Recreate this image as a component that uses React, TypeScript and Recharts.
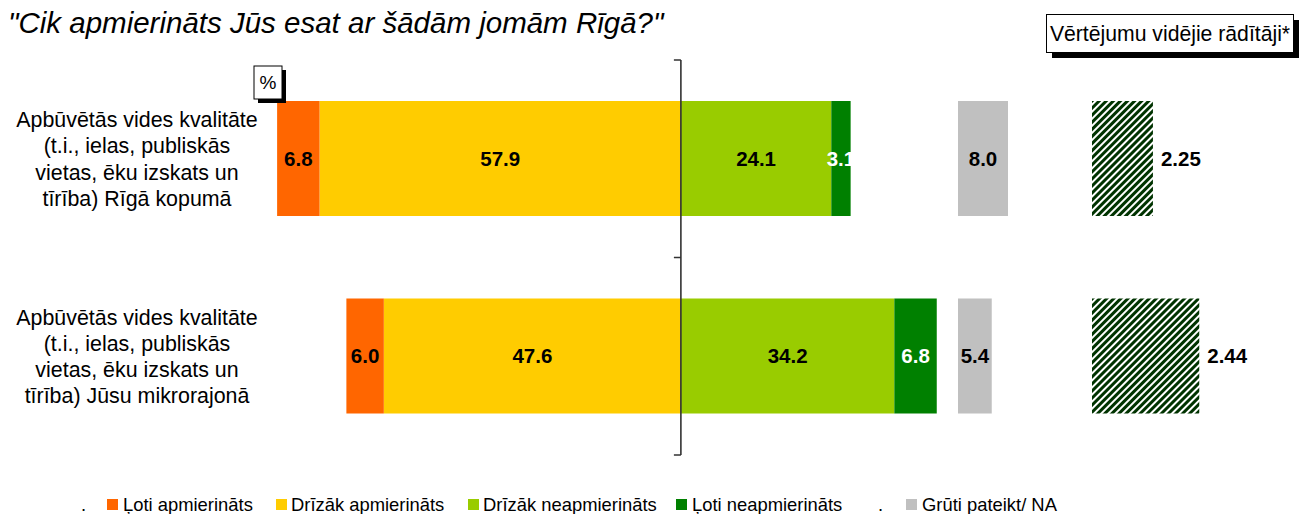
import { BarChart, Bar, XAxis, YAxis, LabelList, ReferenceLine } from 'recharts';

const FONT = '"Liberation Sans", Arial, sans-serif';

const categories = [
    'Apbūvētās vides kvalitāte (t.i., ielas, publiskās vietas, ēku izskats un tīrība) Rīgā kopumā',
    'Apbūvētās vides kvalitāte (t.i., ielas, publiskās vietas, ēku izskats un tīrība) Jūsu mikrorajonā',
];
const categoryLines = [
    ['Apbūvētās vides kvalitāte', '(t.i., ielas, publiskās', 'vietas, ēku izskats un', 'tīrība) Rīgā kopumā'],
    ['Apbūvētās vides kvalitāte', '(t.i., ielas, publiskās', 'vietas, ēku izskats un', 'tīrība) Jūsu mikrorajonā'],
];

const lotiApmierinats = [6.8, 6.0];
const drizakApmierinats = [57.9, 47.6];
const drizakNeapmierinats = [24.1, 34.2];
const lotiNeapmierinats = [3.1, 6.8];
const grutiPateikt = [8.0, 5.4];
const videjieRaditaji = [2.25, 2.44];

const seriesNames = ['Ļoti apmierināts', 'Drīzāk apmierināts', 'Drīzāk neapmierināts', 'Ļoti neapmierināts', 'Grūti pateikt/ NA'];
const COLORS = ['#FF6600', '#FFCC00', '#99CC00', '#008000', '#C0C0C0'];

// left side goes negative so the stack diverges around 0
const data = categories.map((name, i) => ({
    name,
    loti: -lotiApmierinats[i],
    drizak: -drizakApmierinats[i],
    drizakNe: drizakNeapmierinats[i],
    lotiNe: lotiNeapmierinats[i],
    gruti: grutiPateikt[i],
    videjais: videjieRaditaji[i],
}));

const fmt = (v: any) => Math.abs(Number(v)).toFixed(1);

const labelStyle = { fontSize: 20.5, fontWeight: 'bold', fontFamily: FONT };

function CategoryTick(props: any) {
    const { y, payload } = props;
    const idx = categories.indexOf(payload.value);
    const lines = idx >= 0 ? categoryLines[idx] : [payload.value];
    const lh = 26.3;
    const start = y - ((lines.length - 1) * lh) / 2;
    return (
        <text textAnchor="middle" fontSize={21.4} fontFamily={FONT} fill="#000">
            {lines.map((l, i) => (
                <tspan key={i} x={137} y={start + i * lh} dy="0.36em">{l}</tspan>
            ))}
        </text>
    );
}

function AxisShape(props: any) {
    const { x1, y1, y2 } = props;
    const top = Math.min(y1, y2);
    const bottom = Math.max(y1, y2);
    const mid = (top + bottom) / 2;
    return (
        <path
            d={`M${x1},${top} V${bottom} M${x1 - 7},${top} H${x1} M${x1 - 7},${mid} H${x1} M${x1 - 7},${bottom} H${x1}`}
            stroke="#333"
            strokeWidth={1.6}
            fill="none"
        />
    );
}

const MARGIN_TOP = 60;
const MARGIN_BOTTOM = 59;

function MainChart() {
    return (
        <BarChart
            layout="vertical"
            width={960}
            height={514}
            data={data}
            stackOffset="sign"
            barSize={115}
            margin={{ top: MARGIN_TOP, right: 17, bottom: MARGIN_BOTTOM, left: 0 }}
        >
            <XAxis type="number" domain={[-66, 42]} hide />
            <YAxis type="category" dataKey="name" width={269} axisLine={false} tickLine={false} interval={0} tick={<CategoryTick />} />
            <Bar dataKey="drizak" stackId="a" fill={COLORS[1]} isAnimationActive={false}>
                <LabelList dataKey="drizak" position="center" formatter={fmt} fill="#000" {...labelStyle} />
            </Bar>
            <Bar dataKey="loti" stackId="a" fill={COLORS[0]} isAnimationActive={false}>
                <LabelList dataKey="loti" position="center" formatter={fmt} fill="#000" {...labelStyle} />
            </Bar>
            <Bar dataKey="drizakNe" stackId="a" fill={COLORS[2]} isAnimationActive={false}>
                <LabelList dataKey="drizakNe" position="center" formatter={fmt} fill="#000" {...labelStyle} />
            </Bar>
            <Bar dataKey="lotiNe" stackId="a" fill={COLORS[3]} isAnimationActive={false}>
                <LabelList dataKey="lotiNe" position="center" formatter={fmt} fill="#fff" {...labelStyle} />
            </Bar>
            <ReferenceLine x={0} shape={AxisShape} />
        </BarChart>
    );
}

function NaChart() {
    return (
        <BarChart
            layout="vertical"
            width={80}
            height={514}
            data={data}
            barSize={115}
            margin={{ top: MARGIN_TOP, right: 5, bottom: MARGIN_BOTTOM, left: 0 }}
        >
            <XAxis type="number" domain={[0, 12]} hide />
            <YAxis type="category" dataKey="name" hide />
            <Bar dataKey="gruti" fill={COLORS[4]} isAnimationActive={false}>
                <LabelList dataKey="gruti" position="center" formatter={fmt} fill="#000" {...labelStyle} />
            </Bar>
        </BarChart>
    );
}

function AverageChart() {
    return (
        <BarChart
            layout="vertical"
            width={207}
            height={514}
            data={data}
            barSize={115}
            margin={{ top: MARGIN_TOP, right: 12, bottom: MARGIN_BOTTOM, left: 0 }}
        >
            <defs>
                <pattern id="hatch" width="5" height="5" patternUnits="userSpaceOnUse" patternTransform="rotate(45)">
                    <rect width="5" height="5" fill="#fff" />
                    <rect width="3" height="5" fill="#003300" />
                </pattern>
            </defs>
            <XAxis type="number" domain={[2, 2.8]} hide />
            <YAxis type="category" dataKey="name" hide />
            <Bar dataKey="videjais" fill="url(#hatch)" isAnimationActive={false}>
                <LabelList dataKey="videjais" position="right" offset={8} formatter={(v: any) => Number(v).toFixed(2)} fill="#000" {...labelStyle} />
            </Bar>
        </BarChart>
    );
}

const legendItems = [
    { sq: 107, tx: 123 },
    { sq: 276, tx: 291 },
    { sq: 468, tx: 483 },
    { sq: 676, tx: 692 },
    { sq: 906, tx: 922 },
];

function Overlay() {
    return (
        <svg width={1299} height={514} style={{ position: 'absolute', left: 0, top: 0, pointerEvents: 'none' }} fontFamily={FONT}>
            <text x={8} y={33} fontSize={29.5} fontStyle="italic" fill="#000">"Cik apmierināts Jūs esat ar šādām jomām Rīgā?"</text>

            <rect x={258} y={70} width={28} height={33} fill="#000" />
            <rect x={254} y={66} width={28} height={33} fill="#fff" stroke="#000" strokeWidth={1} />
            <text x={268} y={89} fontSize={19} textAnchor="middle" fill="#000">%</text>

            <rect x={1052} y={20} width={247} height={38} fill="#000" />
            <rect x={1046.5} y={14.5} width={247} height={38} fill="#fff" stroke="#000" strokeWidth={1} />
            <text x={1170} y={40.5} fontSize={21.2} textAnchor="middle" fill="#000">Vērtējumu vidējie rādītāji*</text>

            <text x={81} y={511} fontSize={18.4} fill="#000">.</text>
            <text x={878} y={511} fontSize={18.4} fill="#000">.</text>
            {legendItems.map((it, i) => (
                <g key={i}>
                    <rect x={it.sq} y={499} width={11} height={11} fill={COLORS[i]} />
                    <text x={it.tx} y={511} fontSize={18.4} fill="#000">{seriesNames[i]}</text>
                </g>
            ))}
        </svg>
    );
}

export default function App() {
    return (
        <div style={{ position: 'absolute', left: 0, top: 0, width: 1299, height: 514, background: '#fff', fontFamily: FONT }}>
            <div style={{ position: 'absolute', left: 0, top: 0 }}>
                <MainChart />
            </div>
            <div style={{ position: 'absolute', left: 958, top: 0 }}>
                <NaChart />
            </div>
            <div style={{ position: 'absolute', left: 1092, top: 0 }}>
                <AverageChart />
            </div>
            <Overlay />
        </div>
    );
}
